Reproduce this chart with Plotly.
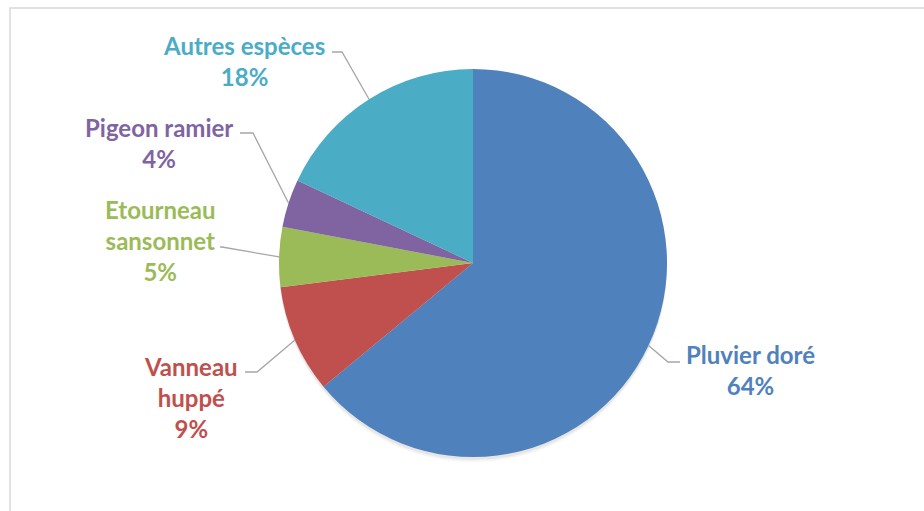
import math
import plotly.graph_objects as go

W, H = 924, 511

# ---- data ----
species = ["Pluvier doré", "Vanneau huppé", "Etourneau sansonnet", "Pigeon ramier", "Autres espèces"]
label_text = ["Pluvier doré", "Vanneau<br>huppé", "Etourneau<br>sansonnet", "Pigeon ramier", "Autres espèces"]
percent = [64, 9, 5, 4, 18]
colors = ["#4F81BD", "#C0504D", "#9BBB59", "#8064A2", "#4BACC6"]

# ---- layout geometry (pixels) ----
CX, CY, R = 473, 263, 194
label_pos = [(750, 370), (191, 397), (160, 241), (159, 143), (244, 61)]
leader_start = [(680, 362), (245, 372), (220, 247), (240, 133), (332, 52)]
leader_elbow = [(668, 362), (257, 372), (222, 247), (253, 133), (342, 52)]


def px(x):
    return x / W


def py(y):
    return 1 - y / H


fig = go.Figure()

# subtle shadow below the pie
for off, alpha in [(5, 0.04), (3, 0.06)]:
    fig.add_trace(go.Pie(
        values=[1], labels=["shadow"], marker=dict(colors=[f"rgba(0,0,0,{alpha})"], line=dict(width=0)),
        domain=dict(x=[px(CX - R), px(CX + R)], y=[py(CY + R + off), py(CY - R + off)]),
        textinfo="none", hoverinfo="skip", showlegend=False, sort=False,
    ))

fig.add_trace(go.Pie(
    labels=species, values=percent, sort=False, direction="clockwise", rotation=0,
    marker=dict(colors=colors, line=dict(width=0)),
    textinfo="none", showlegend=False,
    domain=dict(x=[px(CX - R), px(CX + R)], y=[py(CY + R), py(CY - R)]),
))

annotations = []
shapes = []
total = sum(percent)
cum = 0
for i, v in enumerate(percent):
    mid = (cum + v / 2) / total * 2 * math.pi
    cum += v
    ex = CX + R * math.sin(mid)
    ey = CY - R * math.cos(mid)
    lx, ly = label_pos[i]
    annotations.append(dict(
        x=px(lx), y=py(ly), xref="paper", yref="paper", showarrow=False,
        text=f"{label_text[i]}<br>{v}%", align="center",
        xanchor="center", yanchor="middle",
        font=dict(family="Lato", size=24, color=colors[i], weight="bold"),
    ))
    sx, sy = leader_start[i]
    bx, by = leader_elbow[i]
    path = f"M {px(sx)},{py(sy)} L {px(bx)},{py(by)} L {px(ex)},{py(ey)}"
    shapes.append(dict(type="path", xref="paper", yref="paper", path=path,
                       line=dict(color="#A6A6A6", width=1.3)))

# chart border
shapes.append(dict(type="rect", xref="paper", yref="paper",
                   x0=px(10), y0=-0.05, x1=1.05, y1=py(8),
                   line=dict(color="#D9D9D9", width=1.5)))

fig.update_layout(
    width=W, height=H, margin=dict(l=0, r=0, t=0, b=0),
    paper_bgcolor="white", plot_bgcolor="white",
    annotations=annotations, shapes=shapes,
)

fig.write_html("out.html")
